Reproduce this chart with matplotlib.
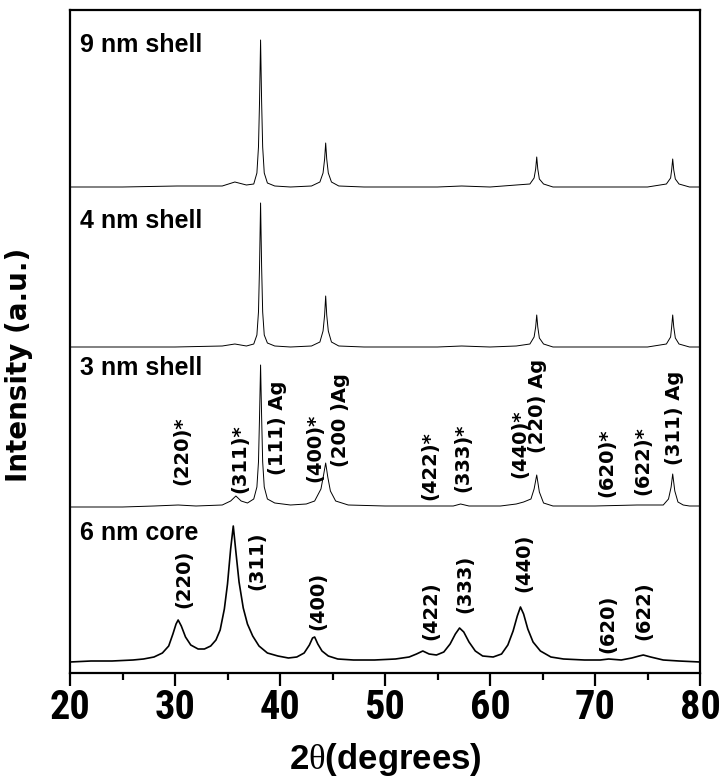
#!/usr/bin/env python3
"""XRD patterns of the core and core/shell particles, stacked."""

import matplotlib
matplotlib.use("Agg")
import matplotlib.pyplot as plt

# Traces as (2theta, counts above own baseline).
core_2theta = [20, 22, 24, 26, 27, 28, 28.8, 29.4, 29.8, 30.1, 30.3, 30.6, 31.0, 31.5,
               32.2, 32.8, 33.4, 33.9, 34.3, 34.7, 35.0, 35.3, 35.55, 35.8, 36.1, 36.5,
               36.9, 37.4, 38.0, 38.8, 39.8, 40.8, 41.6, 42.3, 42.8, 43.1, 43.3, 43.6,
               44.0, 44.6, 45.5, 47, 49, 51, 52.3, 53.0, 53.6, 54.2, 54.9, 55.6, 56.2,
               56.7, 57.1, 57.5, 58.0, 58.6, 59.3, 60.3, 61.1, 61.7, 62.2, 62.6, 62.9,
               63.2, 63.6, 64.1, 64.8, 65.8, 67, 69, 70.5, 71.3, 72.5, 73.5, 74.2, 74.6,
               75.3, 76.5, 78, 80]
core_counts = [2, 3, 3, 4, 5, 7, 11, 18, 30, 40, 44, 38, 27, 19,
               15, 15, 18, 24, 34, 55, 80, 115, 138, 112, 82, 56,
               40, 28, 18, 11, 8, 6, 7, 11, 19, 26, 27, 20,
               13, 8, 5, 4, 4, 5, 7, 10, 13, 10, 9, 12, 20,
               30, 36, 32, 22, 13, 8, 7, 10, 19, 33, 48, 57,
               50, 35, 22, 13, 7, 5, 4, 4, 5, 4, 6, 8, 9,
               7, 4, 3, 2]

shell3_2theta = [20, 25, 28, 30.3, 32, 34.5, 35.3, 35.8, 36.3, 36.9, 37.5, 37.8, 37.95,
                 38.05, 38.15, 38.25, 38.35, 38.5, 38.8, 39.5, 41, 42.5, 43.3, 43.9, 44.15,
                 44.35, 44.55, 44.8, 45.3, 46.5, 50, 54, 56.5, 57.2, 58, 61, 62.5, 63.2,
                 63.9, 64.2, 64.45, 64.7, 65.1, 66, 70, 74, 76.5, 77.0, 77.25, 77.4, 77.6,
                 77.9, 78.4, 79, 80]
shell3_counts = [0, 0, 1, 2, 1, 2, 6, 11, 6, 4, 8, 20, 45,
                 90, 142, 90, 45, 20, 8, 4, 2, 3, 6, 18, 32,
                 44, 30, 16, 6, 2, 1, 1, 1, 3, 1, 1, 3, 5,
                 8, 18, 32, 15, 4, 1, 1, 2, 2, 8, 20, 33, 16,
                 5, 2, 1, 1]

shell4_2theta = [20, 25, 30, 34.5, 35.7, 36.8, 37.5, 37.8, 37.95, 38.05, 38.15, 38.25,
                 38.35, 38.5, 38.8, 39.5, 41, 43, 43.8, 44.1, 44.25, 44.35, 44.45, 44.6,
                 44.9, 45.6, 48, 55, 57.3, 60, 62.5, 63.8, 64.2, 64.35, 64.45, 64.55,
                 64.7, 65.1, 66, 70, 75, 76.8, 77.2, 77.3, 77.4, 77.5, 77.65, 78.0, 79, 80]
shell4_counts = [0, 0, 0, 1, 3, 1, 3, 12, 35, 80, 144, 80,
                 35, 12, 4, 1, 0, 1, 5, 16, 32, 51, 32, 16,
                 5, 1, 0, 0, 1, 0, 1, 3, 10, 20, 32, 20,
                 9, 3, 0, 0, 0, 3, 10, 20, 32, 20, 9, 3, 0, 0]

shell9_2theta = [20, 25, 30.2, 34.5, 35.7, 36.8, 37.5, 37.8, 37.95, 38.05, 38.15, 38.25,
                 38.35, 38.5, 38.8, 39.5, 41, 43, 43.8, 44.1, 44.25, 44.35, 44.45, 44.6,
                 44.9, 45.6, 48, 55, 57.3, 60, 62.5, 63.8, 64.2, 64.35, 64.45, 64.55,
                 64.7, 65.1, 66, 70, 75, 76.8, 77.2, 77.3, 77.4, 77.5, 77.65, 78.0, 79, 80]
shell9_counts = [0, 0, 1, 1, 5, 2, 3, 14, 40, 85, 147, 85,
                 40, 14, 4, 1, 0, 1, 5, 14, 28, 44, 28, 14,
                 5, 1, 0, 0, 1, 0, 2, 3, 9, 18, 30, 18,
                 8, 3, 0, 0, 0, 3, 9, 17, 28, 17, 8, 3, 0, 0]

trace_names = ["6 nm core", "3 nm shell", "4 nm shell", "9 nm shell"]
baselines = [9, 166, 326, 486]
name_heights = [133, 298, 445, 621]

# Peak labels: (text, 2theta, bottom of label)
core_labels = ["(220)", "(311)", "(400)", "(422)", "(333)", "(440)", "(620)", "(622)"]
core_label_x = [30.8, 37.8, 43.6, 54.4, 57.6, 63.2, 71.2, 74.7]
core_label_y = [65, 83, 43, 33, 60, 81, 20, 33]

shell_labels = ["(220)*", "(311)*", "(111) Ag", "(400)*", "(200 )Ag", "(422)*", "(333)*",
                "(440)*", "(220) Ag", "(620)*", "(622)*", "(311) Ag"]
shell_label_x = [30.7, 36.2, 39.8, 43.3, 45.8, 54.3, 57.4, 62.8, 64.5, 71.1, 74.6, 77.6]
shell_label_y = [188, 180, 198, 191, 206, 173, 181, 195, 220, 176, 178, 208]

plt.rcParams["mathtext.fontset"] = "custom"
plt.rcParams["mathtext.rm"] = "Liberation Serif"

fig = plt.figure(figsize=(7.19, 7.8), dpi=100)
ax = fig.add_axes([70 / 719, 107 / 780, 630 / 719, 663 / 780])

traces = [(core_2theta, core_counts), (shell3_2theta, shell3_counts),
          (shell4_2theta, shell4_counts), (shell9_2theta, shell9_counts)]
for (tt, cc), base in zip(traces, baselines):
    ax.plot(tt, [c + base for c in cc], color="black", lw=1.2 if base < 50 else 0.7)

for name, h in zip(trace_names, name_heights):
    ax.text(21.0, h, name, fontsize=18, fontweight="bold", family="Liberation Sans",
            va="baseline", ha="left")

rot_font = dict(fontsize=14, fontweight="bold", family="DejaVu Sans", rotation=90,
                ha="center", va="bottom")
for lab, x, y in zip(core_labels, core_label_x, core_label_y):
    ax.text(x, y, lab, **rot_font)
for lab, x, y in zip(shell_labels, shell_label_x, shell_label_y):
    ax.text(x, y, lab, **rot_font)

ax.set_xlim(20, 80)
ax.set_ylim(0, 663)
ax.set_yticks([])
ax.set_xticks(range(20, 81, 10))
ax.set_xticks(range(25, 80, 10), minor=True)
ax.tick_params(axis="x", which="major", direction="out", length=9.5, width=1.6, pad=2)
ax.tick_params(axis="x", which="minor", direction="out", length=5, width=1.6)
for lbl in ax.get_xticklabels():
    lbl.set_family(["Roboto Condensed", "Barlow Condensed", "DejaVu Sans"])
    lbl.set_fontweight("bold")
    lbl.set_fontsize(29)
for sp in ax.spines.values():
    sp.set_linewidth(1.6)

ax.set_xlabel("2$\\mathrm{\\theta}$(degrees)", fontsize=25, fontweight="bold",
              family="Liberation Sans", labelpad=10)
ax.set_ylabel("Intensity (a.u.)", fontsize=20, fontweight="bold", family="DejaVu Sans")
ax.yaxis.set_label_coords(-0.058, 0.465)

fig.savefig("out.png", dpi=100)
plt.close()
